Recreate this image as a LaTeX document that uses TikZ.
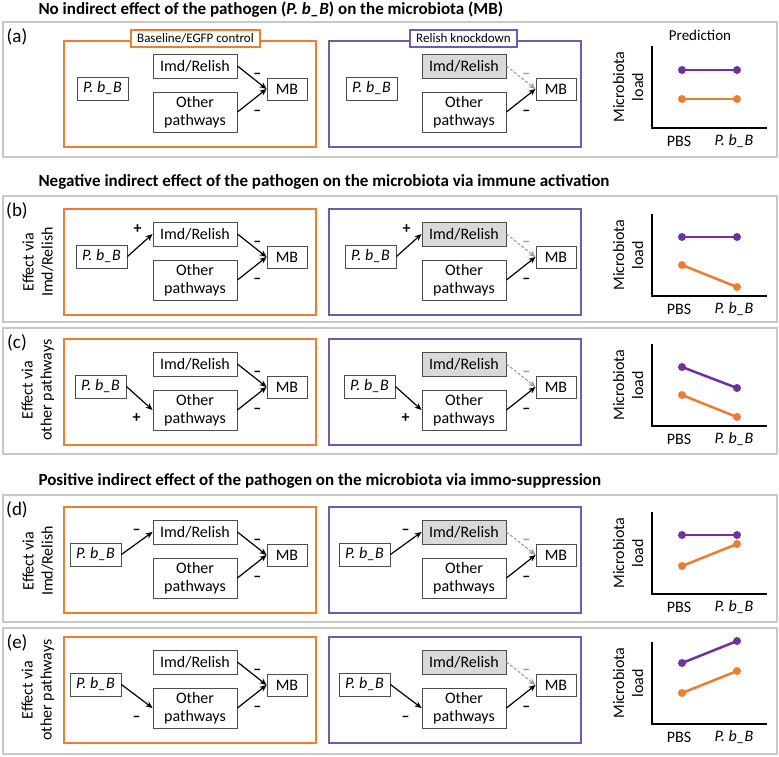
\documentclass[tikz,border=0pt]{standalone}
\usepackage{fontspec}
\setmainfont{Carlito}
\usetikzlibrary{arrows.meta}

\definecolor{ctrlorange}{RGB}{237,125,49}
\definecolor{kdpurple}{RGB}{112,90,178}
\definecolor{dotpurple}{RGB}{112,48,160}
\definecolor{kdgray}{RGB}{217,217,217}
\definecolor{panelgray}{RGB}{200,200,200}

\tikzset{
  panel/.style={draw=panelgray, line width=1.3pt},
  frame/.style={line width=2pt},
  tagbox/.style={draw, fill=white, line width=2pt, inner xsep=6pt, inner ysep=0pt, minimum height=17pt, font=\fontsize{13}{15}\selectfont},
  box/.style={draw=black!70, fill=white, line width=0.9pt, inner sep=0pt, align=center, font=\fontsize{16}{18.5}\selectfont},
  arr/.style={-{Stealth[length=7pt,width=6pt]}, line width=1.2pt},
  knock/.style={draw=black!38, dash pattern=on 3pt off 1.8pt, line width=1.1pt},
  sign/.style={inner sep=0pt, font=\fontsize{16}{18}\bfseries\selectfont},
  minus/.style={sign, yshift=-6pt},
  heading/.style={anchor=west, font=\fontsize{17}{20}\bfseries\selectfont},
  letter/.style={font=\fontsize{19}{22}\selectfont},
  side/.style={rotate=90, align=center, font=\fontsize{16}{19}\selectfont},
  tick/.style={font=\fontsize{16}{18}\selectfont},
  axis/.style={line width=1.5pt},
  trend/.style={line width=2.5pt},
  dot/.style={circle, inner sep=0pt, minimum size=8pt},
}

\begin{document}
\begin{tikzpicture}[x=1pt, y=-1pt]
  \useasboundingbox (0,0) rectangle (779,756);

  % one row per case: letter, panel top/bottom, frame top, shift of P. b_B, plot heights
  \foreach \p/\ytop/\ybot/\yo/\px/\pa/\pb/\oa/\ob in
    {a/22/157/41/0/58/58/29/29, b/196/322/209/-1/59/59/31/9, c/328/454/339/-2/59/38/31/9,
     d/495/622/507/-7/59/59/28/50, e/628/754/637/-7/61/83/31/53}
  {
    \draw[panel] (3,\ytop) rectangle (777,\ybot);
    \node[letter] (tag-\p) at (17,\ytop+15) {(\p)};
    \foreach \c/\fx/\cx/\col/\imdfill in {o/64/64/ctrlorange/white, k/329/333/kdpurple/kdgray}
    {
      \draw[frame, draw=\col] (\fx,\yo) rectangle (\fx+252,\yo+106);
      \node[box, minimum width=51pt, minimum height=23pt] (pb-\c-\p) at (\cx+38.5+\px,\yo+47.5) {\textit{P. b\_B}};
      \node[box, fill=\imdfill, minimum width=84pt, minimum height=24pt] (imd-\c-\p) at (\cx+131,\yo+25) {Imd/Relish};
      \node[box, minimum width=84pt, minimum height=40pt] (oth-\c-\p) at (\cx+131,\yo+71) {Other\\pathways};
      \node[box, minimum width=40pt, minimum height=22pt] (mb-\c-\p) at (\cx+223,\yo+48) {MB};
      \draw[arr] (oth-\c-\p.east) -- (mb-\c-\p.west) node[minus, at start, xshift=20pt, yshift=5pt] {\textendash};
    }
    \draw[arr] (imd-o-\p.east) -- (mb-o-\p.west) node[minus, at start, xshift=20pt, yshift=-4pt] {\textendash};
    \draw[arr, knock] (imd-k-\p.east) -- (mb-k-\p.west) node[minus, text=black!40, at start, xshift=20pt, yshift=-4pt] {\textendash};

    % prediction plot
    \draw[axis] (652,\yo+5) -- (652,\yo+87) -- (767,\yo+87);
    \node[dot, fill=dotpurple] (k1-\p) at (682,\yo+87-\pa) {};
    \node[dot, fill=dotpurple] (k2-\p) at (737,\yo+87-\pb) {};
    \draw[trend, dotpurple] (k1-\p.center) -- (k2-\p.center);
    \node[dot, fill=ctrlorange] (o1-\p) at (682,\yo+87-\oa) {};
    \node[dot, fill=ctrlorange] (o2-\p) at (737,\yo+87-\ob) {};
    \draw[trend, ctrlorange] (o1-\p.center) -- (o2-\p.center);
    \node[tick] (pbs-\p) at (679,\yo+100) {PBS};
    \node[tick] (inf-\p) at (734,\yo+100) {\textit{P. b\_B}};
    \node[side] (load-\p) at (628,\yo+46) {Microbiota\\load};
  }

  \node[heading] (head-a) at (35,10) {No indirect effect of the pathogen (\textit{P. b\_B}) on the microbiota (MB)};
  \node[heading] (head-b) at (35,182) {Negative indirect effect of the pathogen on the microbiota via immune activation};
  \node[heading] (head-d) at (35,481) {Positive indirect effect of the pathogen on the microbiota via immo-suppression};

  \node[tagbox, draw=ctrlorange] (tag-ctrl) at (195.5,38.5) {Baseline/EGFP control};
  \node[tagbox, draw=kdpurple] (tag-kd) at (463.5,38.5) {Relish knockdown};
  \node[tick, font=\fontsize{15}{17}\selectfont] (pred) at (700,35) {Prediction};

  \node[side] (side-b) at (38,262) {Effect via\\Imd/Relish};
  \node[side] (side-c) at (38,390) {Effect via\\other pathways};
  \node[side] (side-d) at (38,561) {Effect via\\Imd/Relish};
  \node[side] (side-e) at (38,690) {Effect via\\other pathways};

  % path from the pathogen
  \foreach \c in {o,k}
  {
    \draw[arr] (pb-\c-b.east) -- (imd-\c-b.west) node[sign, at end, xshift=-15pt, yshift=5pt] {+};
    \draw[arr] (pb-\c-c.east) -- (oth-\c-c.west) node[sign, at end, xshift=-16pt, yshift=-8pt] {+};
    \draw[arr] (pb-\c-d.east) -- (imd-\c-d.west) node[minus, at end, xshift=-16pt, yshift=6pt] {\textendash};
    \draw[arr] (pb-\c-e.east) -- (oth-\c-e.west) node[minus, at end, xshift=-16pt, yshift=-5pt] {\textendash};
  }
\end{tikzpicture}
\end{document}
